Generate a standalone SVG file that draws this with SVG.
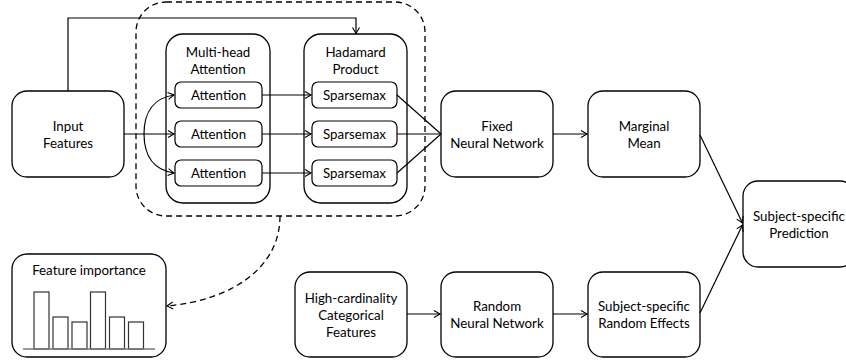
<svg xmlns="http://www.w3.org/2000/svg" width="846" height="364" viewBox="0 0 846 364">
<style>
.box{fill:#fff;stroke:#000;stroke-width:1.3}
.sub{fill:#fff;stroke:#000;stroke-width:1.2}
.t{font-family:"Lato","Liberation Sans",sans-serif;font-size:13.3px;fill:#000;text-anchor:middle;dominant-baseline:central}
.c{fill:none;stroke:#000;stroke-width:1.2}
.d{fill:none;stroke:#000;stroke-width:1.3;stroke-dasharray:6 4}
.bar{fill:#fff;stroke:#333;stroke-width:1.2}
</style>
<defs>
<marker id="ah" markerUnits="userSpaceOnUse" markerWidth="10" markerHeight="10" refX="0" refY="0" viewBox="-7 -5 8 10" orient="auto">
<path d="M-6,-3.5 L0,0 L-6,3.5" fill="none" stroke="#000" stroke-width="1.1"/>
</marker>
</defs>

<g id="attention-module">
<rect class="d" x="136" y="2" width="289" height="214" rx="30"/>
</g>

<g id="input-features">
<rect class="box" x="12" y="91" width="112" height="86" rx="15"/>
<text class="t" x="68" y="125.5">Input</text>
<text class="t" x="68" y="142.5">Features</text>
</g>

<g id="multi-head">
<rect class="box" x="166" y="34" width="104" height="169" rx="17"/>
<text class="t" x="218" y="52">Multi-head</text>
<text class="t" x="218" y="68.5">Attention</text>
</g>
<g id="attention-1"><rect class="sub" x="175" y="82" width="87" height="26" rx="6"/><text class="t" x="218.5" y="95">Attention</text></g>
<g id="attention-2"><rect class="sub" x="175" y="121" width="87" height="26" rx="6"/><text class="t" x="218.5" y="134">Attention</text></g>
<g id="attention-3"><rect class="sub" x="175" y="160" width="87" height="26" rx="6"/><text class="t" x="218.5" y="173">Attention</text></g>

<g id="hadamard">
<rect class="box" x="304" y="34" width="103" height="169" rx="17"/>
<text class="t" x="355.5" y="52">Hadamard</text>
<text class="t" x="355.5" y="68.5">Product</text>
</g>
<g id="sparsemax-1"><rect class="sub" x="312" y="82" width="85" height="26" rx="6"/><text class="t" x="354.5" y="95">Sparsemax</text></g>
<g id="sparsemax-2"><rect class="sub" x="312" y="121" width="85" height="26" rx="6"/><text class="t" x="354.5" y="134">Sparsemax</text></g>
<g id="sparsemax-3"><rect class="sub" x="312" y="160" width="85" height="26" rx="6"/><text class="t" x="354.5" y="173">Sparsemax</text></g>

<g id="fixed-nn">
<rect class="box" x="441" y="91" width="112" height="86" rx="15"/>
<text class="t" x="497" y="125.5">Fixed</text>
<text class="t" x="497" y="142.5">Neural Network</text>
</g>

<g id="marginal-mean">
<rect class="box" x="588" y="91" width="112" height="86" rx="15"/>
<text class="t" x="644" y="125.5">Marginal</text>
<text class="t" x="644" y="142.5">Mean</text>
</g>

<g id="prediction">
<rect class="box" x="743" y="181" width="112" height="86" rx="15"/>
<text class="t" x="799" y="215.5">Subject-specific</text>
<text class="t" x="799" y="232.5">Prediction</text>
</g>

<g id="high-cardinality">
<rect class="box" x="295" y="272" width="112" height="85" rx="15"/>
<text class="t" x="351" y="298">High-cardinality</text>
<text class="t" x="351" y="315">Categorical</text>
<text class="t" x="351" y="332">Features</text>
</g>

<g id="random-nn">
<rect class="box" x="441" y="272" width="112" height="85" rx="15"/>
<text class="t" x="497" y="306">Random</text>
<text class="t" x="497" y="323">Neural Network</text>
</g>

<g id="random-effects">
<rect class="box" x="588" y="272" width="112" height="85" rx="15"/>
<text class="t" x="644" y="306">Subject-specific</text>
<text class="t" x="644" y="323">Random Effects</text>
</g>

<g id="feature-importance">
<rect class="box" x="12" y="254" width="154" height="103" rx="15"/>
<text class="t" x="89" y="270">Feature importance</text>
<rect class="bar" x="34" y="292" width="15" height="57"/>
<rect class="bar" x="53" y="317" width="15" height="32"/>
<rect class="bar" x="72" y="322" width="15" height="27"/>
<rect class="bar" x="90.5" y="292" width="15" height="57"/>
<rect class="bar" x="109.5" y="317" width="15" height="32"/>
<rect class="bar" x="128.5" y="322" width="15" height="27"/>
<line x1="23" y1="349" x2="155" y2="349" stroke="#777" stroke-width="1.5"/>
</g>

<g id="connectors">
<path class="c" d="M68,91 V18 H356 V33.5" marker-end="url(#ah)"/>
<path class="c" d="M124,134 H174" marker-end="url(#ah)"/>
<path class="c" d="M144,134 C144,112 154,98 174,95" marker-end="url(#ah)"/>
<path class="c" d="M144,134 C144,156 154,170 174,173" marker-end="url(#ah)"/>
<path class="c" d="M262,95 H311" marker-end="url(#ah)"/>
<path class="c" d="M262,134 H311" marker-end="url(#ah)"/>
<path class="c" d="M262,173 H311" marker-end="url(#ah)"/>
<path class="c" d="M397,95 L441,134"/>
<path class="c" d="M397,134 L441,134"/>
<path class="c" d="M397,173 L441,134"/>
<path class="c" d="M553,134 H587" marker-end="url(#ah)"/>
<path class="c" d="M700,135 L742.5,223" marker-end="url(#ah)"/>
<path class="c" d="M700,313 L742.5,225" marker-end="url(#ah)"/>
<path class="c" d="M407,314 H440" marker-end="url(#ah)"/>
<path class="c" d="M553,314 H587" marker-end="url(#ah)"/>
<path class="d" d="M280,216 C280,268 232,300 167,306" marker-end="url(#ah)"/>
</g>
</svg>
